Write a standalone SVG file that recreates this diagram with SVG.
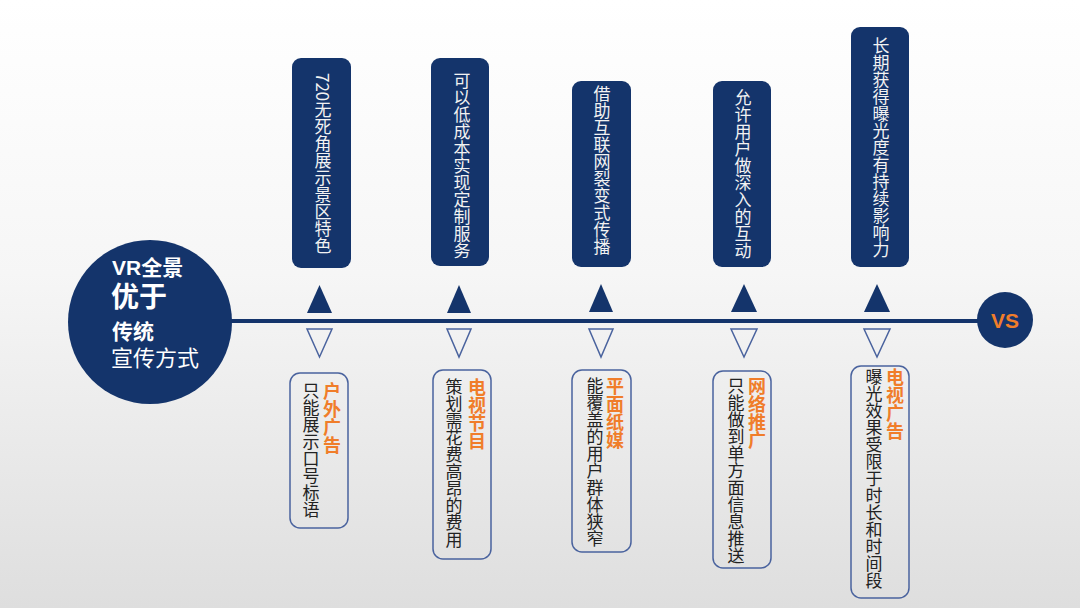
<svg xmlns="http://www.w3.org/2000/svg" width="1080" height="608" viewBox="0 0 1080 608">
<defs>
<linearGradient id="bg" x1="0" y1="0" x2="0" y2="1">
<stop offset="0" stop-color="#ffffff"/>
<stop offset="0.45" stop-color="#f6f6f6"/>
<stop offset="1" stop-color="#dedede"/>
</linearGradient>
</defs>
<style>
.navy{fill:#14346b}
.tb{fill:#14346b}
.vt{font-family:"Noto Sans CJK SC","Liberation Sans",sans-serif;font-size:17px;writing-mode:vertical-rl;text-orientation:mixed}
.wt{fill:#f2f2f2}
.bt{fill:#222222}
.ot{fill:#f07d2a;font-weight:bold;font-size:18px}
.ob{fill:none;stroke:#4a639e;stroke-width:1.5}
.dn{fill:none;stroke:#4a639e;stroke-width:1.5}
.ct{font-family:"Liberation Sans","Noto Sans CJK SC",sans-serif;fill:#ffffff}
</style>
<rect width="1080" height="608" fill="url(#bg)"/>
<g id="connectors">
<rect x="230" y="319" width="752" height="4" class="navy"/>
</g>
<g id="main">
<circle cx="150" cy="322" r="82" class="navy"/>
<text class="ct" x="112" y="275" font-size="21" font-weight="bold">VR全景</text>
<text class="ct" x="111" y="307" font-size="28" font-weight="bold">优于</text>
<text class="ct" x="112" y="339" font-size="21" font-weight="bold">传统</text>
<text class="ct" x="111" y="366" font-size="22">宣传方式</text>
</g>
<g id="vs">
<circle cx="1005" cy="320" r="28" class="navy"/>
<text x="1005" y="328" text-anchor="middle" font-family="Liberation Sans,sans-serif" font-weight="bold" font-size="21" fill="#f07d2a">VS</text>
</g>
<g id="top1">
<rect x="292" y="58" width="59" height="210" rx="9" class="tb"/>
<text class="vt wt" x="323" y="73">720无死角展示景区特色</text>
</g>
<g id="top2">
<rect x="431" y="58" width="58" height="208" rx="9" class="tb"/>
<text class="vt wt" x="462" y="72">可以低成本实现定制服务</text>
</g>
<g id="top3">
<rect x="572" y="81" width="59" height="186" rx="9" class="tb"/>
<text class="vt wt" x="602" y="85">借助互联网裂变式传播</text>
</g>
<g id="top4">
<rect x="713" y="81" width="58" height="186" rx="9" class="tb"/>
<text class="vt wt" x="743" y="89">允许用户做深入的互动</text>
</g>
<g id="top5">
<rect x="851" y="27" width="58" height="240" rx="9" class="tb"/>
<text class="vt wt" x="881" y="37">长期获得曝光度有持续影响力</text>
</g>
<g id="arrows">
<polygon points="319.5,285 307,313 332,313" class="navy"/>
<polygon points="459,285 447,313 471,313" class="navy"/>
<polygon points="601,284 589,312 613,312" class="navy"/>
<polygon points="744,284 731,312 757,312" class="navy"/>
<polygon points="877,284 864,312 890,312" class="navy"/>
<polygon points="307,329 332,329 319.5,357" class="dn"/>
<polygon points="447,329 471,329 459,357" class="dn"/>
<polygon points="589,329 613,329 601,357" class="dn"/>
<polygon points="731,329 757,329 744,357" class="dn"/>
<polygon points="864,329 890,329 877,357" class="dn"/>
</g>
<g id="bot1">
<rect x="290" y="373" width="58" height="155" rx="10" class="ob"/>
<text class="vt ot" x="332" y="382">户外广告</text>
<text class="vt bt" x="311" y="382">只能展示口号标语</text>
</g>
<g id="bot2">
<rect x="433" y="370" width="58" height="189" rx="10" class="ob"/>
<text class="vt ot" x="477" y="378">电视节目</text>
<text class="vt bt" x="454" y="378">策划需花费高昂的费用</text>
</g>
<g id="bot3">
<rect x="572" y="370" width="59" height="182" rx="10" class="ob"/>
<text class="vt ot" x="615" y="377">平面纸媒</text>
<text class="vt bt" x="595" y="377">能覆盖的用户群体狭窄</text>
</g>
<g id="bot4">
<rect x="713" y="371" width="58" height="197" rx="10" class="ob"/>
<text class="vt ot" x="757" y="377">网络推广</text>
<text class="vt bt" x="736" y="377">只能做到单方面信息推送</text>
</g>
<g id="bot5">
<rect x="851" y="366" width="58" height="232" rx="10" class="ob"/>
<text class="vt ot" x="895" y="368">电视广告</text>
<text class="vt bt" x="874" y="368">曝光效果受限于时长和时间段</text>
</g>
</svg>
